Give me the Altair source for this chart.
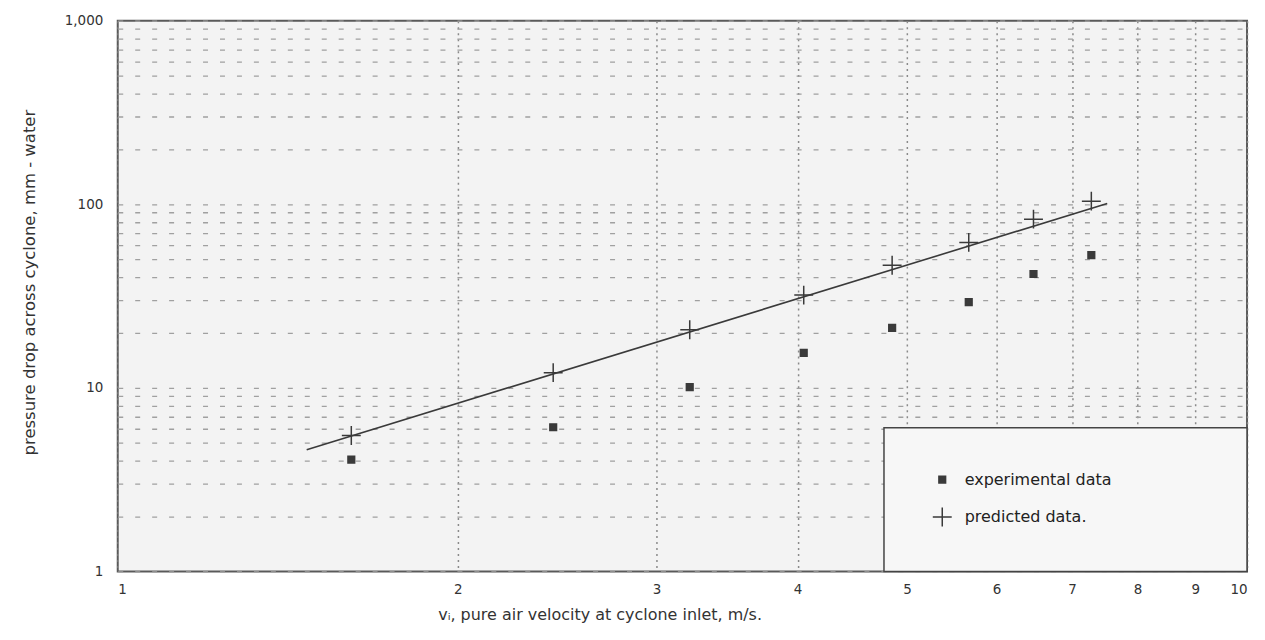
import altair as alt
import pandas as pd

# data (log-log axes)
velocity = [1.61, 2.43, 3.21, 4.05, 4.85, 5.67, 6.47, 7.28]
experimental = [4.06, 6.1, 10.1, 15.5, 21.2, 29.3, 41.7, 52.8]
predicted = [5.5, 12.1, 20.7, 32.0, 46.5, 62.0, 83.0, 104.0]
line_x = [1.47, 7.52]
line_y = [4.6, 101.0]
series_names = ["experimental data", "predicted data."]
x_ticks = [1, 2, 3, 4, 5, 6, 7, 8, 9, 10]
y_grid = [m * d for d in (1, 10, 100) for m in range(1, 10)] + [1000]
legend_box = {"x": [4.77], "x2": [10.0], "y": [1.0], "y2": [6.06]}

pts = pd.DataFrame(
    {"v": velocity * 2,
     "dp": experimental + predicted,
     "series": [series_names[0]] * len(velocity) + [series_names[1]] * len(velocity)}
)
line_df = pd.DataFrame({"v": line_x, "dp": line_y})
box_df = pd.DataFrame(legend_box)

FONT = "DejaVu Sans"
INK = "#333333"

xscale = alt.Scale(type="log", domain=[1, 10], nice=False)
yscale = alt.Scale(type="log", domain=[1, 1000], nice=False)

xaxis = alt.Axis(
    values=x_ticks, labelExpr="format(datum.value, 'd')",
    title="vᵢ, pure air velocity at cyclone inlet, m/s.",
    titleX=483, titlePadding=11,
    grid=True, gridDash=[2, 4], gridColor="#8a8a8a", gridWidth=1.5,
    domain=False, ticks=False, labelPadding=11, labelFontSize=13.5,
    labelFont=FONT, labelColor=INK, titleFont=FONT, titleFontSize=16,
    titleFontWeight="normal", titleColor=INK,
)
yaxis = alt.Axis(
    values=y_grid,
    labelExpr="indexof([1, 10, 100, 1000], datum.value) >= 0 ? format(datum.value, ',') : ''",
    title="pressure drop across cyclone, mm - water",
    titlePadding=27, titleY=262,
    grid=True, gridDash=[5, 12], gridColor="#a0a0a0", gridWidth=1.3,
    domain=False, ticks=False, labelPadding=15, labelFontSize=13.5,
    labelFont=FONT, labelColor=INK, titleFont=FONT, titleFontSize=16.5,
    titleFontWeight="normal", titleColor=INK,
)

box = alt.Chart(box_df).mark_rect(
    fill="#f7f7f7", stroke="#444444", strokeWidth=1.5
).encode(
    x=alt.X("x:Q", scale=xscale, axis=xaxis),
    x2="x2:Q",
    y=alt.Y("y:Q", scale=yscale, axis=yaxis),
    y2="y2:Q",
)

line = alt.Chart(line_df).mark_line(color="#3a3a3a", strokeWidth=1.6).encode(
    x=alt.X("v:Q", scale=xscale),
    y=alt.Y("dp:Q", scale=yscale),
)

plus_path = "M-1,0L1,0M0,-1L0,1"
legend = alt.Legend(
    title=None, orient="none", legendX=816, legendY=452, padding=0,
    labelFont=FONT, labelFontSize=16, labelColor="#222222", labelOffset=12,
    rowPadding=17, symbolStrokeWidth=1.5, fillColor="transparent", labelLimit=400,
)
points = alt.Chart(pts).mark_point(opacity=1, strokeWidth=1.5).encode(
    x=alt.X("v:Q", scale=xscale),
    y=alt.Y("dp:Q", scale=yscale),
    shape=alt.Shape("series:N", scale=alt.Scale(domain=series_names, range=["square", plus_path]), legend=legend),
    fill=alt.Fill("series:N", scale=alt.Scale(domain=series_names, range=["#3a3a3a", "transparent"]), legend=legend),
    stroke=alt.Stroke("series:N", scale=alt.Scale(domain=series_names, range=["#3a3a3a", "#3a3a3a"]), legend=legend),
    size=alt.Size("series:N", scale=alt.Scale(domain=series_names, range=[45, 360]), legend=legend),
)

chart = alt.layer(box, line, points).properties(
    width=1132, height=552,
    autosize=alt.AutoSizeParams(type="none"),
    padding={"left": 110, "top": 12, "right": 10, "bottom": 60},
    background="white",
).configure_view(
    fill="#f3f3f3", stroke="#5a5a5a", strokeWidth=2
)

chart.save("out.html", embed_options={"renderer": "svg", "actions": False})
